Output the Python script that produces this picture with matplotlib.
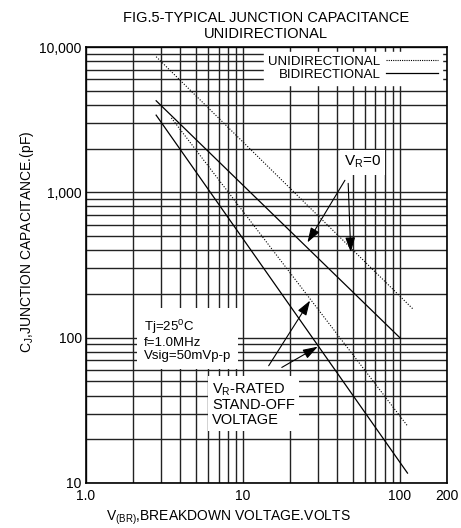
import matplotlib
matplotlib.use("Agg")
import matplotlib.pyplot as plt
from matplotlib.lines import Line2D

plt.rcParams['font.family'] = ['Liberation Sans', 'DejaVu Sans']
plt.rcParams['mathtext.default'] = 'regular'

# curve end points (log-log, straight lines)
uni_v0_x = [2.8, 121]
uni_v0_y = [8576, 158]
bi_v0_x = [2.8, 101]
bi_v0_y = [4266, 99]
uni_vr_x = [3.5, 112]
uni_vr_y = [3250, 24.7]
bi_vr_x = [2.8, 112]
bi_vr_y = [3397, 11.7]

x_major = [1, 10, 100, 200]
x_major_labels = ["1.0", "10", "100", "200"]
x_minor = [2, 3, 4, 5, 6, 7, 8, 9, 20, 30, 40, 50, 60, 70, 80, 90]
y_major = [10, 100, 1000, 10000]
y_major_labels = ["10", "100", "1,000", "10,000"]
y_minor = [20, 30, 40, 50, 60, 70, 80, 90,
           200, 300, 400, 500, 600, 700, 800, 900,
           2000, 3000, 4000, 5000, 6000, 7000, 8000, 9000]

W, H = 461, 528
fig = plt.figure(figsize=(W / 100, H / 100), dpi=100)
ax = fig.add_axes([86 / W, 1 - 483 / H, (447 - 86) / W, (483 - 47) / H])

ax.set_xscale("log")
ax.set_yscale("log")
ax.set_xlim(1, 200)
ax.set_ylim(10, 10000)

ax.set_xticks(x_major)
ax.set_xticklabels(x_major_labels)
ax.set_xticks(x_minor, minor=True)
ax.set_yticks(y_major)
ax.set_yticklabels(y_major_labels)
ax.set_yticks(y_minor, minor=True)
ax.tick_params(which="both", length=0, labelsize=10, pad=4)
ax.tick_params(axis="y", pad=3)

ax.set_axisbelow(True)
ax.grid(which="both", axis="both", color="#222222", lw=1.0)
for s in ax.spines.values():
    s.set_linewidth(1.2)
    s.set_color("black")

ax.plot(uni_v0_x, uni_v0_y, color="black", lw=0.8, ls=(0, (1, 1.5)), zorder=3)
ax.plot(bi_v0_x, bi_v0_y, color="black", lw=0.9, zorder=3)
ax.plot(uni_vr_x, uni_vr_y, color="black", lw=0.8, ls=(0, (1, 1.5)), zorder=3)
ax.plot(bi_vr_x, bi_vr_y, color="black", lw=0.9, zorder=3)

handles = [Line2D([], [], color="black", lw=0.8, ls=(0, (1, 1))),
           Line2D([], [], color="black", lw=0.9)]
leg = ax.legend(handles, ["UNIDIRECTIONAL", "BIDIRECTIONAL"], loc="upper right",
                markerfirst=False, fontsize=9.5, handlelength=4.0, handletextpad=0.4,
                labelspacing=0.05, borderpad=0.3, borderaxespad=0.35,
                frameon=True, fancybox=False)
leg.get_frame().set_facecolor("white")
leg.get_frame().set_edgecolor("white")
leg.get_frame().set_alpha(1)
leg.set_zorder(5)

white = dict(facecolor="white", edgecolor="none", pad=3)
arrow = dict(arrowstyle="-|>,head_length=0.9,head_width=0.3", color="black",
             lw=0.8, shrinkA=0, shrinkB=0)

ax.text(58, 1611, "V$_R$=0", fontsize=11, ha="center", va="center",
        bbox=white, zorder=6)
ax.annotate("", xy=(25.8, 452), xytext=(44.7, 1210), arrowprops=arrow, zorder=6)
ax.annotate("", xy=(48.7, 387), xytext=(46.9, 1153), arrowprops=arrow, zorder=6)

ax.text(2.33, 138, "Tj=25$^0$C\nf=1.0MHz\nVsig=50mVp-p", fontsize=9.5,
        ha="left", va="top", linespacing=1.15, bbox=dict(facecolor="white",
        edgecolor="none", pad=5), zorder=6)

ax.text(6.37, 35, "V$_R$-RATED\nSTAND-OFF\nVOLTAGE", fontsize=10.5,
        ha="left", va="center", linespacing=1.05, bbox=white, zorder=6)
ax.annotate("", xy=(26.8, 180), xytext=(14.6, 64.1), arrowprops=arrow, zorder=6)
ax.annotate("", xy=(30.0, 86.7), xytext=(17.7, 62.4), arrowprops=arrow, zorder=6)

fig.text(266 / W, 1 - 26 / H, "FIG.5-TYPICAL JUNCTION CAPACITANCE\nUNIDIRECTIONAL",
         ha="center", va="center", fontsize=10.5, linespacing=1.25)
fig.text(228 / W, 1 - 518 / H, "V$_{(BR)}$,BREAKDOWN VOLTAGE.VOLTS",
         ha="center", va="center", fontsize=10)
fig.text(27 / W, 1 - 242 / H, "C$_J$,JUNCTION CAPACITANCE.(pF)",
         ha="center", va="center", fontsize=10, rotation=90)

fig.savefig("out.png", dpi=100)
